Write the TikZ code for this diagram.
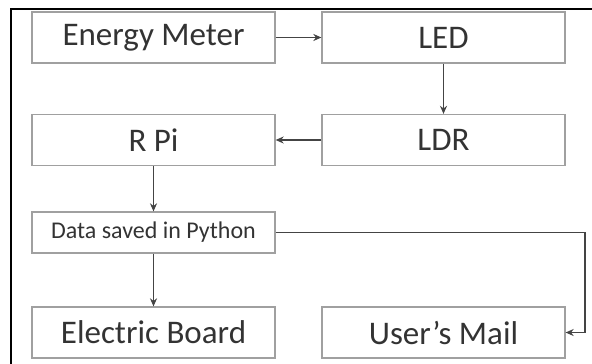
\documentclass[tikz,border=0pt]{standalone}
\usepackage{fontspec}
\setmainfont{Carlito}
\usetikzlibrary{arrows.meta}
\definecolor{boxline}{HTML}{A0A0A0}
\definecolor{wire}{HTML}{444444}
\definecolor{ink}{HTML}{333333}
\tikzset{
  block/.style={draw=boxline, line width=1.3pt, minimum width=243pt, minimum height=51pt,
    inner sep=0pt, text=ink, font=\fontsize{33}{40}\selectfont},
  smallblock/.style={block, minimum height=41pt, font=\fontsize{24}{29}\selectfont},
  flow/.style={draw=wire, line width=1.8pt, -{Stealth[length=8pt, width=7pt]}},
}
\begin{document}
\begin{tikzpicture}[x=1pt, y=-1pt]
  \useasboundingbox (0,0) rectangle (592,364);
  \draw[line width=2.6pt] (592,9) -- (11,9) -- (11,364);

  \node[block] (meter) at (153.5,37.5) {Energy Meter};
  \node[block] (led) at (443.5,37.5) {LED};
  \node[block] (rpi) at (153.5,140) {R Pi};
  \node[block] (ldr) at (443.5,140) {LDR};
  \node[smallblock] (data) at (153.5,232.5) {Data saved in Python};
  \node[block] (board) at (153.5,332.5) {Electric Board};
  \node[block] (mail) at (443.5,332.5) {User’s Mail};
  \coordinate (turn) at (585,232.5);

  \draw[flow] (meter) -- (led);
  \draw[flow] (led) -- (ldr);
  \draw[flow] (ldr) -- (rpi);
  \draw[flow] (rpi) -- (data);
  \draw[flow] (data) -- (board);
  \draw[flow] (data.east) -- (turn) |- (mail.east);
\end{tikzpicture}
\end{document}
